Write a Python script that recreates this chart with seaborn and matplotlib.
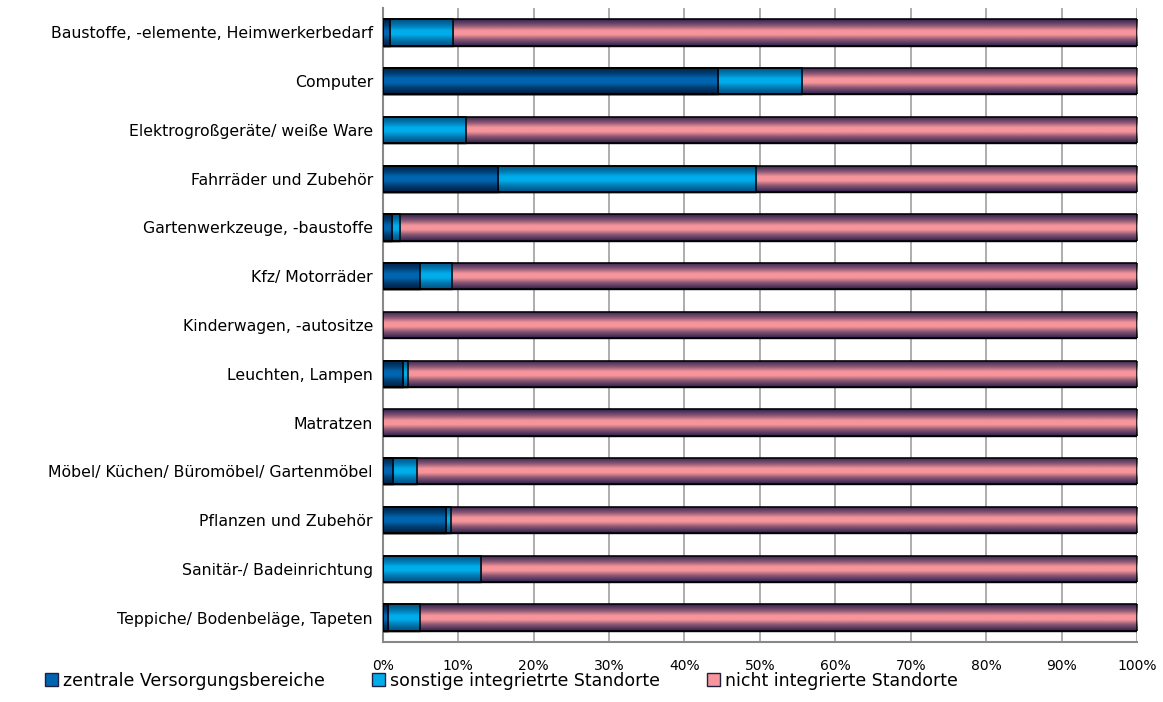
import numpy as np
import pandas as pd
import seaborn as sns
import matplotlib.pyplot as plt
from matplotlib.patches import Patch
from matplotlib.colors import LinearSegmentedColormap, to_rgb
from matplotlib.ticker import FixedLocator

categories = [
    "Baustoffe, -elemente, Heimwerkerbedarf",
    "Computer",
    "Elektrogroßgeräte/ weiße Ware",
    "Fahrräder und Zubehör",
    "Gartenwerkzeuge, -baustoffe",
    "Kfz/ Motorräder",
    "Kinderwagen, -autositze",
    "Leuchten, Lampen",
    "Matratzen",
    "Möbel/ Küchen/ Büromöbel/ Gartenmöbel",
    "Pflanzen und Zubehör",
    "Sanitär-/ Badeinrichtung",
    "Teppiche/ Bodenbeläge, Tapeten",
]
zentral = [1.0, 44.5, 0.0, 15.3, 1.2, 4.9, 0.0, 2.7, 0.0, 1.4, 8.4, 0.0, 0.7]
sonstige = [8.3, 11.1, 11.0, 34.2, 1.1, 4.3, 0.0, 0.6, 0.0, 3.1, 0.6, 13.0, 4.2]
series = ["zentrale Versorgungsbereiche", "sonstige integrietrte Standorte",
          "nicht integrierte Standorte"]

df = pd.DataFrame({"cat": categories, "z": zentral, "s": sonstige})
df["zs"] = df["z"] + df["s"]
df["total"] = 100.0

colors = ["#0065B0", "#00ADEB", "#F6959B"]
edge_dark = ["#001E40", "#004E80", "#2E2150"]

sns.set_style("white")
plt.rcParams["font.family"] = ["DejaVu Sans"]
plt.rcParams["text.color"] = "black"
plt.rcParams["xtick.labelcolor"] = "black"
plt.rcParams["ytick.labelcolor"] = "black"

fig = plt.figure(figsize=(11.63, 7.02), dpi=100)
ax = fig.add_axes([0.329, 0.0855, 0.6487, 0.9031])

for col, c in zip(["total", "zs", "z"], colors[::-1]):
    sns.barplot(data=df, x=col, y="cat", orient="h", color=c, width=0.54,
                edgecolor="black", linewidth=1.0, ax=ax, zorder=3)

# gradient shading inside each bar (dark rims, bright centre)
fill_map = {}
for c, d in zip(colors, edge_dark):
    cr, dr = np.array(to_rgb(c)), np.array(to_rgb(d))
    mid = tuple(0.5 * cr + 0.5 * dr)
    fill_map[c] = LinearSegmentedColormap.from_list(
        "g", [(0, d), (0.25, mid), (0.42, c), (0.58, c), (0.75, mid), (1, d)])
grad = np.linspace(0, 1, 64).reshape(-1, 1)
for p in list(ax.patches):
    w = p.get_width()
    if w <= 0:
        continue
    fc = p.get_facecolor()
    key = min(colors, key=lambda k: sum(abs(a - b) for a, b in zip(to_rgb(k), fc[:3])))
    x0, y0 = p.get_x(), p.get_y()
    h = p.get_height()
    im = ax.imshow(grad, cmap=fill_map[key], aspect="auto",
                   extent=[x0, x0 + w, y0 + h, y0], zorder=3.5, interpolation="bilinear")
    im.set_clip_path(p)
    ax.add_patch(plt.Rectangle((x0, y0), w, h, fill=False, edgecolor="black",
                               linewidth=1.1, zorder=4))

ax.set_xlim(0, 100)
ax.set_ylim(12.5, -0.5)
ax.set_xticks(np.arange(0, 101, 10))
ax.set_xticklabels([f"{v}%" for v in range(0, 101, 10)], fontsize=10)
ax.tick_params(axis="y", labelsize=11.3, length=0, pad=7)
ax.yaxis.set_minor_locator(FixedLocator(np.arange(-0.5, 13, 1)))
ax.tick_params(axis="y", which="minor", length=5, color="#888888", direction="out", width=1.2)
ax.tick_params(axis="x", length=5, color="#888888", direction="out", width=1.2, pad=7)
ax.set_xlabel("")
ax.set_ylabel("")
ax.grid(axis="x", color="#A0A0A0", linewidth=1.2, zorder=0)
ax.set_axisbelow(True)
for s in ["top", "right"]:
    ax.spines[s].set_visible(False)
for s in ["left", "bottom"]:
    ax.spines[s].set_color("#888888")
    ax.spines[s].set_linewidth(1.5)

handles = [Patch(facecolor=c, edgecolor="#202040", linewidth=1.0) for c in colors]
fig.legend(handles, series, loc="lower left", bbox_to_anchor=(0.025, -0.005), ncol=3,
           frameon=False, fontsize=12.5, handlelength=0.75, handleheight=0.75,
           handletextpad=0.3, columnspacing=2.7)

fig.savefig("out.png", dpi=100)
